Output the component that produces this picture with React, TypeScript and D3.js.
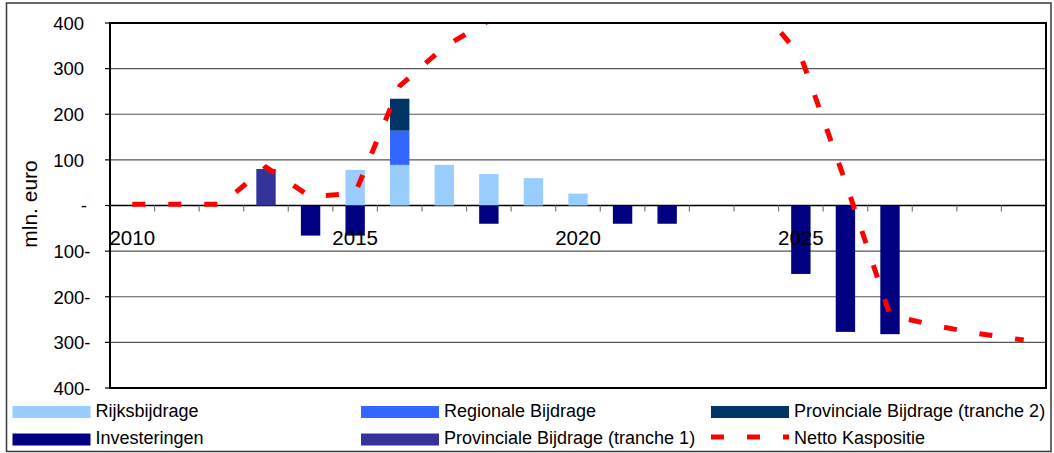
import React from "react";
import * as d3 from "d3";

// Categories (years) and series values in mln. euro
const years = [2010, 2011, 2012, 2013, 2014, 2015, 2016, 2017, 2018, 2019, 2020, 2021, 2022, 2023, 2024, 2025, 2026, 2027, 2028, 2029, 2030];
const rijksbijdrage = [0, 0, 0, 0, 0, 78, 89, 89, 69, 60, 26, 0, 0, 0, 0, 0, 0, 0, 0, 0, 0];
const regionaleBijdrage = [0, 0, 0, 0, 0, 0, 75, 0, 0, 0, 0, 0, 0, 0, 0, 0, 0, 0, 0, 0, 0];
const provTranche2 = [0, 0, 0, 0, 0, 0, 70, 0, 0, 0, 0, 0, 0, 0, 0, 0, 0, 0, 0, 0, 0];
const investeringen = [0, 0, 0, 0, -66, -66, 0, 0, -40, 0, 0, -40, -40, 0, 0, -150, -277, -282, 0, 0, 0];
const provTranche1 = [0, 0, 0, 80, 0, 0, 0, 0, 0, 0, 0, 0, 0, 0, 0, 0, 0, 0, 0, 0, 0];
const nettoKaspositie = [3, 3, 3, 84, 19, 27, 262, 348, 405, 455, 480, 445, 410, 420, 443, 327, 52, -240, -263, -281, -295];

const yTicks = [400, 300, 200, 100, 0, -100, -200, -300, -400];
const yTickLabels = ["400", "300", "200", "100", "-", "100-", "200-", "300-", "400-"];
const xLabelYears = [2010, 2015, 2020, 2025];

const seriesNames = [
  "Rijksbijdrage",
  "Regionale Bijdrage",
  "Provinciale Bijdrage (tranche 2)",
  "Investeringen",
  "Provinciale Bijdrage (tranche 1)",
];
const seriesColors = ["#99CCFF", "#3366FF", "#003366", "#000080", "#333399"];
const seriesValues = [rijksbijdrage, regionaleBijdrage, provTranche2, investeringen, provTranche1];
const lineName = "Netto Kaspositie";
const lineColor = "#FF0000";

const FONT = "Arial, 'Liberation Sans', sans-serif";

export default function App() {
  const W = 1054;
  const H = 453;
  const plot = { left: 110, right: 1046, top: 23, bottom: 388 };

  const x = d3.scaleBand<number>().domain(years).range([plot.left, plot.right]).padding(0);
  const y = d3.scaleLinear().domain([-400, 400]).range([plot.bottom, plot.top]);
  const bw = x.bandwidth();
  const barW = bw / 2.3;

  const table = years.map((yr, i) => {
    const row: Record<string, number> = { year: yr };
    seriesNames.forEach((n, s) => (row[n] = seriesValues[s][i]));
    return row;
  });
  const stacked = d3.stack<Record<string, number>>().keys(seriesNames).offset(d3.stackOffsetDiverging)(table);

  const cx = (yr: number) => (x(yr) as number) + bw / 2;
  const linePath = d3
    .line<number>()
    .x((_, i) => cx(years[i]))
    .y((v) => y(v))(nettoKaspositie) as string;

  const legendCols = [12.5, 361, 711];
  const legendRows = [406, 433.5];
  const legendItems = [
    { name: seriesNames[0], color: seriesColors[0], col: 0, row: 0 },
    { name: seriesNames[1], color: seriesColors[1], col: 1, row: 0 },
    { name: seriesNames[2], color: seriesColors[2], col: 2, row: 0 },
    { name: seriesNames[3], color: seriesColors[3], col: 0, row: 1 },
    { name: seriesNames[4], color: seriesColors[4], col: 1, row: 1 },
  ];
  const swW = 78;
  const swH = 12;

  return (
    <svg width={W} height={H} style={{ position: "absolute", left: 0, top: 0, background: "#fff" }} fontFamily={FONT}>
      <defs>
        <clipPath id="plotClip">
          <rect x={plot.left} y={plot.top} width={plot.right - plot.left} height={plot.bottom - plot.top} />
        </clipPath>
      </defs>
      {/* chart frame */}
      <rect x={6.5} y={3} width={1044.5} height={448.5} fill="#fff" stroke="#3a3a3a" strokeWidth={1.5} />

      {/* horizontal gridlines */}
      {yTicks.map((t) => (
        <line key={"g" + t} x1={plot.left} x2={plot.right} y1={y(t)} y2={y(t)} stroke={t === 0 ? "#000" : "#555"} strokeWidth={t === 0 ? 1.5 : 1.2} />
      ))}

      {/* y ticks and labels */}
      {yTicks.map((t, i) => (
        <g key={"yt" + t}>
          <line x1={plot.left - 5} x2={plot.left} y1={y(t)} y2={y(t)} stroke="#000" strokeWidth={1.2} />
          <text
            x={t < 0 ? 90.5 : t === 0 ? 87 : 84}
            y={y(t) + 6.8}
            fontSize={18.5}
            textAnchor="end"
            fill="#000"
          >
            {yTickLabels[i]}
          </text>
        </g>
      ))}

      {/* y axis title */}
      <text transform="translate(37,204) rotate(-90)" fontSize={21} textAnchor="middle" fill="#000">
        mln. euro
      </text>

      {/* bars */}
      <g>
        {stacked.map((layer, s) =>
          layer.map((d, i) => {
            const v = seriesValues[s][i];
            if (!v) return null;
            const y0 = y(d[0]);
            const y1 = y(d[1]);
            return (
              <rect
                key={s + "-" + i}
                x={cx(years[i]) - barW / 2}
                width={barW}
                y={Math.min(y0, y1)}
                height={Math.abs(y1 - y0)}
                fill={seriesColors[s]}
              />
            );
          })
        )}
      </g>

      {/* category ticks on the zero line */}
      {years.slice(1).map((yr) => (
        <line key={"xt" + yr} x1={x(yr) as number} x2={x(yr) as number} y1={y(0)} y2={y(0) + 6} stroke="#777" strokeWidth={1.2} />
      ))}

      {/* x labels */}
      {xLabelYears.map((yr) => (
        <text key={"xl" + yr} x={cx(yr)} y={245} fontSize={20.5} textAnchor="middle" fill="#000">
          {yr}
        </text>
      ))}

      {/* netto kaspositie line */}
      <path
        d={linePath}
        fill="none"
        stroke={lineColor}
        strokeWidth={5}
        strokeDasharray="13 23"
        strokeLinejoin="miter"
        clipPath="url(#plotClip)"
      />

      {/* plot area border */}
      <rect x={plot.left} y={plot.top} width={plot.right - plot.left} height={plot.bottom - plot.top} fill="none" stroke="#000" strokeWidth={2} />

      {/* legend */}
      {legendItems.map((it) => (
        <g key={it.name}>
          <rect x={legendCols[it.col]} y={legendRows[it.row]} width={swW} height={swH} fill={it.color} />
          <text x={legendCols[it.col] + swW + 5} y={legendRows[it.row] + 10.5} fontSize={18} fill="#000">
            {it.name}
          </text>
        </g>
      ))}
      <line
        x1={legendCols[2]}
        x2={legendCols[2] + swW}
        y1={legendRows[1] + 3.5}
        y2={legendRows[1] + 3.5}
        stroke={lineColor}
        strokeWidth={5}
        strokeDasharray="13 23"
      />
      <text x={legendCols[2] + swW + 5} y={legendRows[1] + 10.5} fontSize={18} fill="#000">
        {lineName}
      </text>
    </svg>
  );
}
